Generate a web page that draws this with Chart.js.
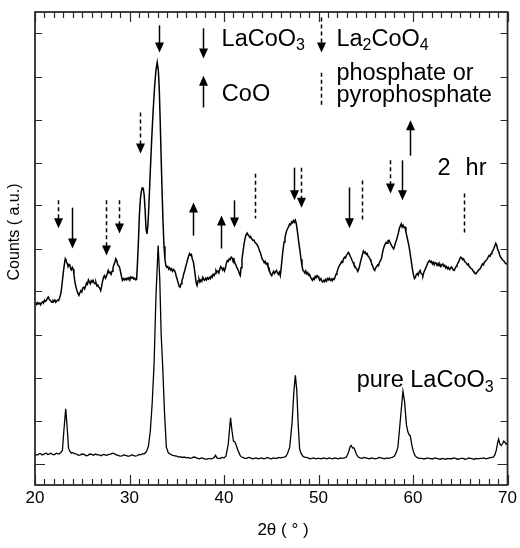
<!DOCTYPE html>
<html>
<head>
<meta charset="utf-8">
<script src="https://cdn.jsdelivr.net/npm/chart.js@4/dist/chart.umd.min.js"></script>
<style>
  html, body { margin: 0; padding: 0; background: #fff; }
  #wrap { width: 520px; height: 548px; }
</style>
</head>
<body>
<div id="wrap"><canvas id="c" width="520" height="548"></canvas></div>
<script>
// XRD scan after 2 hr, [2θ, counts] (offset upward)
const twoHrScan = [
[20.0,3.75],[20.1,3.72],[20.2,3.70],[20.3,3.74],[20.4,3.71],[20.5,3.73],[20.6,3.69],[20.7,3.74],[20.8,3.76],[20.9,3.73],
[21.0,3.80],[21.1,3.77],[21.2,3.79],[21.3,3.84],[21.4,3.87],[21.5,3.82],[21.6,3.79],[21.7,3.77],[21.8,3.75],[21.9,3.79],
[22.0,3.77],[22.1,3.80],[22.2,3.75],[22.3,3.78],[22.4,3.80],[22.5,3.79],[22.6,3.85],[22.7,3.92],[22.8,4.05],[22.9,4.25],
[23.0,4.45],[23.1,4.62],[23.2,4.76],[23.28,4.72],[23.35,4.68],[23.45,4.63],[23.5,4.58],[23.6,4.63],[23.7,4.60],[23.78,4.52],
[23.85,4.50],[23.95,4.56],[24.05,4.52],[24.12,4.40],[24.2,4.26],[24.3,4.14],[24.4,4.05],[24.5,3.98],[24.65,3.91],[24.75,3.97],
[24.85,4.02],[24.95,3.99],[25.05,4.08],[25.15,4.10],[25.25,4.06],[25.35,4.12],[25.45,4.20],[25.55,4.17],[25.65,4.27],[25.75,4.22],
[25.85,4.18],[25.95,4.25],[26.05,4.22],[26.15,4.26],[26.25,4.20],[26.35,4.18],[26.45,4.21],[26.55,4.13],[26.65,4.15],[26.75,4.10],
[26.85,4.08],[26.95,4.02],[27.05,4.12],[27.15,4.24],[27.25,4.33],[27.35,4.37],[27.45,4.31],[27.55,4.35],[27.65,4.42],[27.75,4.49],
[27.85,4.43],[27.95,4.45],[28.05,4.40],[28.15,4.47],[28.25,4.55],[28.35,4.62],[28.45,4.68],[28.55,4.76],[28.65,4.72],[28.75,4.62],
[28.85,4.60],[28.95,4.56],[29.05,4.46],[29.15,4.35],[29.25,4.26],[29.35,4.30],[29.45,4.27],[29.55,4.30],[29.65,4.27],[29.75,4.31],
[29.85,4.28],[29.95,4.32],[30.05,4.29],[30.15,4.34],[30.25,4.31],[30.35,4.33],[30.45,4.29],[30.55,4.31],[30.65,4.27],[30.75,4.28],
[30.85,4.70],[30.95,5.20],[31.05,5.80],[31.15,6.15],[31.25,6.33],[31.35,6.41],[31.45,6.40],[31.55,6.25],[31.65,5.90],[31.75,5.45],
[31.85,5.34],[31.95,5.55],[32.05,6.00],[32.2,6.80],[32.35,7.55],[32.5,8.20],[32.65,8.75],[32.8,9.15],[32.93,9.33],[33.05,9.15],
[33.15,8.70],[33.25,7.95],[33.35,7.10],[33.45,6.30],[33.55,5.60],[33.65,5.05],[33.75,4.75],[33.85,4.60],[33.95,4.56],[34.05,4.58],
[34.15,4.52],[34.25,4.55],[34.35,4.50],[34.45,4.53],[34.55,4.47],[34.65,4.51],[34.75,4.49],[34.85,4.44],[34.95,4.35],[35.05,4.28],
[35.15,4.20],[35.25,4.12],[35.35,4.10],[35.45,4.18],[35.55,4.26],[35.65,4.32],[35.75,4.42],[35.85,4.49],[35.95,4.58],[36.05,4.66],
[36.15,4.75],[36.25,4.82],[36.35,4.88],[36.45,4.84],[36.55,4.86],[36.65,4.75],[36.75,4.70],[36.85,4.55],[36.95,4.38],[37.05,4.20],
[37.15,4.14],[37.25,4.25],[37.35,4.29],[37.45,4.22],[37.55,4.27],[37.65,4.24],[37.75,4.33],[37.85,4.28],[37.95,4.26],[38.05,4.31],
[38.15,4.27],[38.25,4.32],[38.35,4.29],[38.45,4.33],[38.55,4.30],[38.65,4.36],[38.75,4.33],[38.85,4.40],[38.95,4.37],[39.05,4.42],
[39.15,4.49],[39.25,4.45],[39.35,4.47],[39.45,4.43],[39.55,4.52],[39.65,4.58],[39.75,4.55],[39.85,4.50],[39.95,4.54],[40.05,4.48],
[40.15,4.55],[40.25,4.66],[40.35,4.72],[40.45,4.70],[40.55,4.76],[40.65,4.74],[40.75,4.80],[40.85,4.78],[40.95,4.72],[41.05,4.75],
[41.15,4.66],[41.25,4.62],[41.35,4.56],[41.45,4.52],[41.55,4.47],[41.65,4.40],[41.72,4.37],[41.8,4.55],[41.9,4.75],[42.0,4.91],
[42.1,5.08],[42.2,5.20],[42.3,5.30],[42.45,5.36],[42.55,5.32],[42.65,5.29],[42.75,5.25],[42.85,5.26],[42.95,5.22],[43.05,5.19],
[43.15,5.20],[43.25,5.15],[43.35,5.13],[43.45,5.10],[43.55,5.07],[43.65,5.02],[43.75,4.95],[43.85,4.90],[43.95,4.82],[44.05,4.75],
[44.15,4.72],[44.25,4.67],[44.35,4.70],[44.45,4.64],[44.55,4.66],[44.65,4.58],[44.75,4.55],[44.85,4.45],[44.95,4.40],[45.05,4.37],
[45.15,4.43],[45.25,4.47],[45.35,4.42],[45.45,4.46],[45.55,4.49],[45.65,4.44],[45.75,4.40],[45.85,4.45],[45.95,4.37],[46.05,4.55],
[46.15,4.78],[46.25,4.98],[46.35,5.15],[46.45,5.25],[46.55,5.35],[46.65,5.43],[46.75,5.47],[46.85,5.52],[46.95,5.57],[47.05,5.55],
[47.15,5.62],[47.25,5.60],[47.35,5.65],[47.45,5.61],[47.55,5.66],[47.65,5.58],[47.75,5.42],[47.85,5.25],[47.95,5.08],[48.05,4.92],
[48.15,4.75],[48.25,4.60],[48.35,4.49],[48.45,4.47],[48.55,4.43],[48.65,4.48],[48.75,4.41],[48.85,4.44],[48.95,4.38],[49.05,4.40],
[49.15,4.33],[49.25,4.30],[49.35,4.26],[49.45,4.31],[49.55,4.28],[49.65,4.35],[49.75,4.32],[49.85,4.37],[49.95,4.35],[50.05,4.30],
[50.15,4.27],[50.25,4.30],[50.35,4.24],[50.45,4.22],[50.55,4.26],[50.65,4.23],[50.75,4.28],[50.85,4.24],[50.95,4.30],[51.05,4.27],
[51.15,4.31],[51.25,4.26],[51.35,4.29],[51.45,4.25],[51.55,4.30],[51.65,4.28],[51.75,4.33],[51.85,4.40],[51.95,4.45],[52.05,4.52],
[52.15,4.58],[52.25,4.62],[52.35,4.65],[52.45,4.70],[52.55,4.68],[52.65,4.76],[52.75,4.80],[52.85,4.78],[52.95,4.84],[53.05,4.87],
[53.15,4.91],[53.25,4.88],[53.35,4.82],[53.45,4.78],[53.55,4.72],[53.65,4.68],[53.75,4.62],[53.85,4.59],[53.95,4.55],[54.05,4.52],
[54.15,4.47],[54.25,4.52],[54.35,4.60],[54.45,4.70],[54.55,4.78],[54.65,4.86],[54.75,4.94],[54.85,4.90],[54.95,4.92],[55.05,4.86],
[55.15,4.88],[55.25,4.82],[55.35,4.80],[55.45,4.75],[55.55,4.70],[55.65,4.63],[55.75,4.58],[55.85,4.52],[55.95,4.49],[56.05,4.55],
[56.15,4.58],[56.25,4.62],[56.35,4.60],[56.45,4.68],[56.55,4.72],[56.65,4.76],[56.75,4.88],[56.85,4.98],[56.95,5.05],[57.05,5.10],
[57.15,5.14],[57.25,5.12],[57.35,5.18],[57.45,5.19],[57.55,5.15],[57.65,5.10],[57.75,5.06],[57.85,5.02],[57.95,4.99],[58.05,5.06],
[58.15,5.14],[58.25,5.20],[58.35,5.28],[58.45,5.36],[58.55,5.47],[58.65,5.52],[58.75,5.57],[58.85,5.50],[58.95,5.54],[59.05,5.49],
[59.15,5.50],[59.25,5.38],[59.35,5.28],[59.45,5.18],[59.55,5.08],[59.65,4.95],[59.75,4.80],[59.85,4.65],[59.95,4.50],[60.05,4.38],
[60.15,4.30],[60.25,4.33],[60.35,4.40],[60.45,4.42],[60.55,4.38],[60.65,4.46],[60.75,4.49],[60.85,4.42],[60.95,4.40],[61.05,4.37],
[61.15,4.45],[61.25,4.50],[61.35,4.55],[61.45,4.60],[61.55,4.66],[61.65,4.70],[61.75,4.72],[61.85,4.68],[61.95,4.70],[62.05,4.64],
[62.15,4.68],[62.25,4.62],[62.35,4.67],[62.45,4.66],[62.55,4.61],[62.65,4.65],[62.75,4.60],[62.85,4.63],[62.95,4.58],[63.05,4.62],
[63.15,4.64],[63.25,4.59],[63.35,4.61],[63.45,4.55],[63.55,4.58],[63.65,4.53],[63.75,4.56],[63.85,4.51],[63.95,4.53],[64.05,4.57],
[64.15,4.55],[64.25,4.50],[64.35,4.49],[64.45,4.53],[64.55,4.58],[64.65,4.62],[64.75,4.66],[64.85,4.70],[64.95,4.76],[65.05,4.80],
[65.15,4.78],[65.25,4.74],[65.35,4.76],[65.45,4.70],[65.55,4.68],[65.65,4.66],[65.75,4.62],[65.85,4.64],[65.95,4.58],[66.05,4.56],
[66.15,4.53],[66.25,4.52],[66.35,4.48],[66.45,4.45],[66.55,4.43],[66.65,4.41],[66.75,4.44],[66.85,4.47],[66.95,4.50],[67.05,4.52],
[67.15,4.55],[67.25,4.60],[67.35,4.64],[67.45,4.62],[67.55,4.68],[67.65,4.70],[67.75,4.73],[67.85,4.76],[67.95,4.80],[68.05,4.84],
[68.15,4.82],[68.25,4.88],[68.35,4.92],[68.45,4.95],[68.55,5.00],[68.65,5.06],[68.75,5.12],[68.85,5.08],[68.95,4.98],[69.05,4.94],
[69.15,4.86],[69.25,4.80],[69.35,4.78],[69.45,4.74],[69.55,4.72],[69.65,4.70],[69.75,4.66],[69.85,4.64],[69.95,4.65],[70.0,4.66]
];

// XRD scan of pure LaCoO3, [2θ, counts]
const pureScan = [
[20.0,0.22],[20.15,0.20],[20.3,0.20],[20.45,0.23],[20.6,0.23],[20.75,0.20],[20.9,0.21],[21.05,0.23],[21.2,0.24],[21.35,0.21],
[21.5,0.22],[21.65,0.24],[21.8,0.22],[21.95,0.20],[22.1,0.21],[22.25,0.24],[22.4,0.23],[22.55,0.22],[22.7,0.25],[22.9,0.30],
[23.05,0.75],[23.25,1.27],[23.4,0.85],[23.55,0.35],[23.7,0.28],[23.85,0.24],[24.0,0.25],[24.2,0.23],[24.4,0.22],[24.6,0.19],
[24.8,0.20],[25.0,0.22],[25.2,0.21],[25.4,0.18],[25.6,0.19],[25.8,0.22],[26.0,0.21],[26.2,0.19],[26.4,0.22],[26.6,0.20],
[26.8,0.20],[27.0,0.18],[27.2,0.21],[27.4,0.20],[27.6,0.19],[27.8,0.21],[28.0,0.22],[28.2,0.24],[28.4,0.23],[28.6,0.20],
[28.8,0.19],[29.0,0.17],[29.2,0.18],[29.4,0.20],[29.6,0.19],[29.8,0.17],[30.0,0.17],[30.2,0.20],[30.4,0.19],[30.6,0.17],
[30.8,0.18],[31.0,0.21],[31.2,0.20],[31.35,0.23],[31.5,0.22],[31.65,0.24],[31.8,0.28],[32.0,0.40],[32.2,0.75],[32.4,1.40],
[32.6,2.32],[32.8,3.90],[33.03,5.07],[33.2,4.30],[33.35,3.00],[33.5,2.32],[33.7,1.20],[33.9,0.38],[34.1,0.25],[34.3,0.22],
[34.45,0.20],[34.6,0.19],[34.8,0.18],[35.0,0.17],[35.2,0.15],[35.4,0.16],[35.6,0.14],[35.8,0.15],[36.0,0.13],[36.2,0.14],
[36.4,0.12],[36.6,0.13],[36.8,0.15],[37.0,0.14],[37.2,0.12],[37.4,0.11],[37.6,0.13],[37.8,0.12],[38.0,0.10],[38.2,0.10],
[38.4,0.12],[38.6,0.11],[38.8,0.12],[38.95,0.14],[39.1,0.19],[39.25,0.13],[39.4,0.12],[39.6,0.12],[39.8,0.14],[40.0,0.13],
[40.2,0.17],[40.45,0.45],[40.69,1.06],[40.85,0.75],[41.0,0.52],[41.15,0.50],[41.3,0.42],[41.45,0.32],[41.7,0.19],[41.85,0.15],
[42.0,0.14],[42.2,0.12],[42.4,0.12],[42.6,0.14],[42.8,0.13],[43.0,0.11],[43.2,0.12],[43.4,0.13],[43.6,0.11],[43.8,0.12],
[44.0,0.13],[44.2,0.11],[44.4,0.12],[44.6,0.14],[44.8,0.12],[45.0,0.11],[45.2,0.13],[45.4,0.12],[45.6,0.12],[45.8,0.14],
[46.0,0.13],[46.2,0.14],[46.4,0.15],[46.55,0.17],[46.7,0.22],[46.95,0.38],[47.2,0.95],[47.4,1.70],[47.55,2.05],[47.7,1.70],
[47.85,0.90],[48.0,0.34],[48.15,0.24],[48.3,0.18],[48.5,0.15],[48.7,0.14],[48.9,0.13],[49.1,0.11],[49.3,0.12],[49.5,0.13],
[49.7,0.11],[49.9,0.12],[50.1,0.12],[50.3,0.11],[50.5,0.13],[50.7,0.12],[50.9,0.11],[51.1,0.13],[51.3,0.12],[51.5,0.11],
[51.7,0.13],[51.9,0.12],[52.1,0.11],[52.3,0.13],[52.5,0.12],[52.75,0.13],[52.95,0.15],[53.1,0.22],[53.2,0.28],[53.35,0.40],
[53.45,0.42],[53.6,0.36],[53.7,0.37],[53.8,0.34],[54.0,0.22],[54.2,0.15],[54.4,0.13],[54.6,0.12],[54.8,0.14],[55.0,0.13],
[55.2,0.12],[55.4,0.11],[55.6,0.13],[55.8,0.12],[56.0,0.11],[56.2,0.12],[56.4,0.14],[56.6,0.13],[56.8,0.12],[57.0,0.11],
[57.2,0.13],[57.4,0.12],[57.6,0.13],[57.8,0.14],[58.0,0.17],[58.1,0.20],[58.25,0.27],[58.4,0.38],[58.65,1.00],[58.93,1.68],
[59.1,1.45],[59.3,0.90],[59.46,0.73],[59.6,0.66],[59.7,0.65],[59.9,0.40],[60.05,0.27],[60.2,0.19],[60.35,0.15],[60.5,0.13],
[60.7,0.12],[60.9,0.12],[61.1,0.11],[61.3,0.11],[61.5,0.13],[61.7,0.12],[61.9,0.11],[62.1,0.11],[62.3,0.13],[62.5,0.12],
[62.7,0.11],[62.9,0.10],[63.1,0.12],[63.3,0.11],[63.5,0.10],[63.7,0.12],[63.9,0.11],[64.1,0.11],[64.3,0.13],[64.5,0.12],
[64.7,0.10],[64.9,0.11],[65.1,0.12],[65.3,0.12],[65.5,0.10],[65.7,0.11],[65.9,0.13],[66.1,0.12],[66.3,0.11],[66.5,0.10],
[66.7,0.12],[66.9,0.11],[67.1,0.12],[67.3,0.12],[67.5,0.13],[67.7,0.11],[67.9,0.12],[68.1,0.13],[68.3,0.14],[68.5,0.15],
[68.65,0.20],[68.8,0.30],[68.95,0.48],[69.05,0.57],[69.2,0.45],[69.33,0.42],[69.5,0.47],[69.6,0.52],[69.7,0.50],[69.85,0.45],
[70.0,0.48]
];

// Axis ticks
const xLabelTicks = [20, 30, 40, 50, 60, 70];
const yTicks = [0, 1, 2, 3, 4, 5, 6, 7, 8, 9, 10];

// Phase markers: angle, tail level, tip level, phase
const markerAngle = [22.47, 23.88, 27.47, 28.88, 31.10, 33.08, 36.73, 39.63, 41.07, 43.26, 47.41, 48.19, 53.19, 54.64, 57.53, 58.87, 59.64, 65.38];
const markerFrom  = [6.12, 5.95, 6.12, 6.12, 8.16, 10.19, 5.30, 5.00, 6.12, 6.74, 6.88, 6.88, 6.42, 6.58, 7.05, 7.05, 7.16, 6.28];
const markerTo    = [5.47, 5.00, 4.84, 5.35, 7.21, 9.56, 6.07, 5.77, 5.49, 5.70, 6.12, 5.95, 5.47, 5.65, 6.28, 6.12, 7.98, 5.35];
const markerKind  = ['La2CoO4', 'LaCoO3', 'La2CoO4', 'La2CoO4', 'La2CoO4', 'LaCoO3', 'CoO', 'CoO', 'LaCoO3', 'phosphate', 'LaCoO3', 'La2CoO4', 'LaCoO3', 'phosphate', 'La2CoO4', 'LaCoO3', 'CoO', 'phosphate'];

// Key symbols
const keyAngle = [37.79, 37.79, 50.31, 50.31];
const keyFrom  = [10.12, 8.28, 10.37, 9.09];
const keyTo    = [9.42, 9.02, 9.56, 8.28];
const keyKind  = ['LaCoO3', 'CoO', 'La2CoO4', 'phosphate'];

const markerStyle = {
  LaCoO3:    { dash: [],     head: true },
  La2CoO4:   { dash: [4, 3], head: true },
  CoO:       { dash: [],     head: true },
  phosphate: { dash: [4, 3], head: false }
};

// Text annotations: [angle, level, runs]; each run is [text, isSubscript]
const notes = [
  [39.74, 9.72, [['LaCoO', false], ['3', true]]],
  [51.89, 9.72, [['La', false], ['2', true], ['CoO', false], ['4', true]]],
  [39.77, 8.43, [['CoO', false]]],
  [51.89, 8.91, [['phosphate or', false]]],
  [51.89, 8.40, [['pyrophosphate', false]]],
  [62.60, 6.70, [['2', false]]],
  [65.56, 6.70, [['hr', false]]],
  [54.04, 1.77, [['pure LaCoO', false], ['3', true]]]
];

const FONT = '"Liberation Sans", Arial, Helvetica, sans-serif';
const INK = '#000';
const AXIS = '#2b2b2b';

function toXY(scan) { return scan.map(p => ({ x: p[0], y: p[1] })); }

function drawArrow(ctx, xs, ys, x, from, to, kind) {
  const st = markerStyle[kind];
  const px = Math.round(xs.getPixelForValue(x)) + 0.5;
  const y0 = ys.getPixelForValue(from);
  const y1 = ys.getPixelForValue(to);
  const dir = y1 > y0 ? 1 : -1;
  const headL = 10, headW = 4.5;
  ctx.save();
  ctx.strokeStyle = INK;
  ctx.fillStyle = INK;
  ctx.lineWidth = 1.5;
  ctx.setLineDash(st.dash);
  ctx.beginPath();
  ctx.moveTo(px, y0);
  ctx.lineTo(px, st.head ? y1 - dir * (headL - 1) : y1);
  ctx.stroke();
  ctx.setLineDash([]);
  if (st.head) {
    ctx.beginPath();
    ctx.moveTo(px, y1);
    ctx.lineTo(px - headW, y1 - dir * headL);
    ctx.lineTo(px + headW, y1 - dir * headL);
    ctx.closePath();
    ctx.fill();
  }
  ctx.restore();
}

function drawRuns(ctx, x, y, runs, size) {
  let cx = x;
  for (const [t, sub] of runs) {
    ctx.font = (sub ? Math.round(size * 0.7) : size) + 'px ' + FONT;
    ctx.fillText(t, cx, sub ? y + size * 0.18 : y);
    cx += ctx.measureText(t).width;
  }
}

const decorations = {
  id: 'decorations',
  afterDatasetsDraw(chart) {
    const { ctx, chartArea: a, scales } = chart;
    const xs = scales.x, ys = scales.y;
    ctx.save();

    // frame
    ctx.strokeStyle = AXIS;
    ctx.lineWidth = 1.8;
    ctx.strokeRect(a.left, a.top, a.right - a.left, a.bottom - a.top);

    // x ticks every degree, inward on top and bottom
    ctx.lineWidth = 1.2;
    ctx.beginPath();
    for (let v = xs.min; v <= xs.max; v += 1) {
      const px = Math.round(xs.getPixelForValue(v)) + 0.5;
      const len = v % 10 === 0 ? 10 : 6;
      ctx.moveTo(px, a.bottom); ctx.lineTo(px, a.bottom - len);
      ctx.moveTo(px, a.top); ctx.lineTo(px, a.top + len);
    }
    // y ticks, inward on left and right; the zero level longer
    for (const v of yTicks) {
      const py = Math.round(ys.getPixelForValue(v)) + 0.5;
      const len = v === 0 ? 10 : 7;
      ctx.moveTo(a.left, py); ctx.lineTo(a.left + len, py);
      ctx.moveTo(a.right, py); ctx.lineTo(a.right - len, py);
    }
    ctx.stroke();

    // phase markers and key
    markerAngle.forEach((x, i) => drawArrow(ctx, xs, ys, x, markerFrom[i], markerTo[i], markerKind[i]));
    keyAngle.forEach((x, i) => drawArrow(ctx, xs, ys, x, keyFrom[i], keyTo[i], keyKind[i]));

    // annotations
    ctx.fillStyle = INK;
    ctx.textAlign = 'left';
    ctx.textBaseline = 'alphabetic';
    for (const [x, y, runs] of notes) {
      drawRuns(ctx, xs.getPixelForValue(x), ys.getPixelForValue(y), runs, 23.5);
    }

    // axis titles
    ctx.textAlign = 'center';
    ctx.textBaseline = 'middle';
    ctx.font = '17px ' + FONT;
    ctx.fillText('2θ ( ° )', 283, 530);
    ctx.save();
    ctx.translate(15, 232);
    ctx.rotate(-Math.PI / 2);
    ctx.font = '16px ' + FONT;
    ctx.fillText('Counts ( a.u.)', 0, 0);
    ctx.restore();

    ctx.restore();
  }
};

new Chart(document.getElementById('c'), {
  type: 'scatter',
  data: {
    datasets: [
      { label: '2 hr', data: toXY(twoHrScan), showLine: true, borderColor: INK, borderWidth: 1.5, pointRadius: 0, tension: 0 },
      { label: 'pure LaCoO3', data: toXY(pureScan), showLine: true, borderColor: INK, borderWidth: 1.3, pointRadius: 0, tension: 0 }
    ]
  },
  options: {
    responsive: false,
    animation: false,
    events: [],
    layout: { padding: { left: 0, right: 12, top: 12, bottom: 0 } },
    plugins: { legend: { display: false }, tooltip: { enabled: false } },
    scales: {
      x: {
        type: 'linear',
        min: 20, max: 70,
        afterFit(s) { s.height = 63; },
        afterBuildTicks(s) { s.ticks = xLabelTicks.map(v => ({ value: v })); },
        grid: { display: false, drawTicks: false },
        border: { display: false },
        ticks: { color: INK, padding: 3, autoSkip: false, maxRotation: 0, font: { size: 17, family: FONT } }
      },
      y: {
        type: 'linear',
        min: -0.5, max: 10.5,
        afterFit(s) { s.width = 35; },
        grid: { display: false, drawTicks: false },
        border: { display: false },
        ticks: { display: false }
      }
    }
  },
  plugins: [decorations]
});
</script>
</body>
</html>
